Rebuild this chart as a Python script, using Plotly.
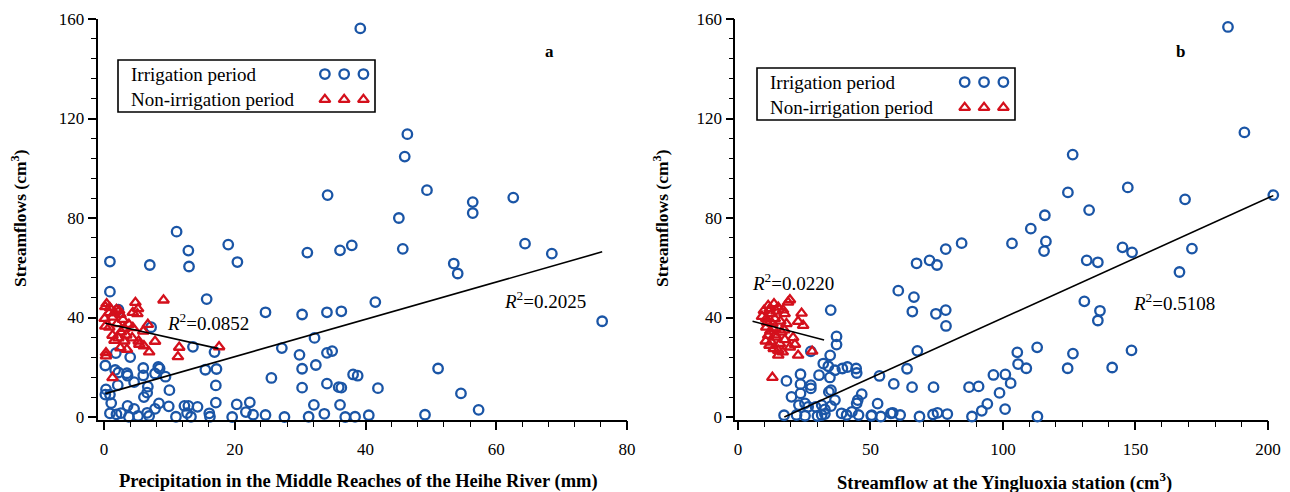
import plotly.graph_objects as go

# ---------------- data ----------------
# Panel a: precipitation in the middle reaches (mm) vs streamflow
a_irr_x = [39.2, 46.4, 46.0, 34.2, 49.4, 56.4, 56.4, 62.6, 45.1, 11.1, 12.9, 19.0, 13.0, 0.9, 7.0,
           20.4, 31.1, 36.1, 37.9, 45.7, 64.4, 68.5, 53.5, 54.1, 0.9, 15.7, 41.5, 24.7, 30.3, 34.1,
           36.3, 76.2, 7.2, 2.2, 13.6, 16.9, 27.2, 29.9, 32.2, 34.1, 34.9, 1.8, 4.0, 0.2, 6.0,
           8.3, 8.5, 15.5, 17.2, 30.3, 32.4, 51.1, 2.2, 3.6, 6.0, 7.8, 9.4, 4.6, 25.6, 38.1,
           38.8, 2.1, 6.7, 17.1, 30.3, 34.1, 35.9, 36.3, 41.9, 0.3, 0.2, 0.9, 6.6, 6.1, 10.0,
           54.6, 1.1, 3.6, 4.6, 8.4, 9.9, 12.3, 12.9, 14.3, 17.1, 20.3, 22.3, 32.1, 36.1, 57.3,
           0.9, 1.9, 2.6, 3.8, 5.2, 6.9, 7.8, 6.6, 11.0, 12.7, 13.3, 16.1, 16.2, 19.6, 21.7,
           22.8, 24.7, 27.6, 31.3, 33.7, 36.9, 38.4, 40.5, 49.1, 1.7, 3.5]
a_irr_y = [156.2, 113.7, 104.7, 89.2, 91.2, 86.4, 82.0, 88.2, 80.0, 74.5, 66.9, 69.3, 60.5, 62.5, 61.1,
           62.3, 66.1, 67.0, 69.0, 67.6, 69.7, 65.7, 61.7, 57.7, 50.4, 47.4, 46.2, 42.1, 41.2, 42.1,
           42.5, 38.5, 36.1, 43.2, 28.2, 26.1, 27.7, 25.0, 31.8, 25.8, 26.5, 25.7, 24.1, 20.7, 19.7,
           20.1, 19.5, 19.0, 19.3, 19.4, 20.9, 19.5, 17.9, 16.6, 16.7, 17.5, 16.2, 14.0, 15.7, 17.1,
           16.6, 12.8, 12.2, 12.7, 11.8, 13.4, 12.0, 11.8, 11.6, 11.1, 9.0, 9.0, 9.8, 8.0, 10.8,
           9.5, 5.6, 4.5, 3.3, 5.5, 4.3, 4.5, 4.5, 4.1, 5.8, 5.1, 5.9, 4.9, 4.9, 2.9,
           1.5, 1.1, 1.6, 0.1, 0.4, 0.4, 3.3, 1.7, 0.1, 1.6, 0.1, 1.5, 0.1, 0.0, 2.0,
           0.9, 0.8, 0.0, 0.1, 1.3, 0.0, 0.1, 0.7, 0.9, 18.9, 17.6]

a_non_x = [9.1, 4.8, 5.2, 5.1, 4.4, 0.4, 0.2, 0.9, 1.9, 2.3, 0.8, 1.6, 2.5, 0.1, 1.3,
           2.9, 0.2, 0.8, 2.0, 3.8, 4.4, 6.7, 3.1, 2.6, 1.3, 2.2, 1.6, 3.1, 4.3, 5.3,
           5.4, 6.1, 7.8, 2.5, 3.5, 6.9, 11.5, 11.3, 17.6, 0.3, 0.3, 1.3, 6.0, 3.4]
a_non_y = [47.0, 46.0, 43.5, 41.5, 42.0, 45.5, 44.3, 43.9, 43.2, 42.8, 41.9, 41.9, 41.2, 39.6, 40.1,
           39.2, 36.5, 36.1, 37.5, 37.2, 35.9, 37.2, 35.6, 34.2, 32.8, 31.8, 30.8, 30.5, 31.8, 30.5,
           29.2, 28.6, 30.4, 27.8, 27.2, 26.1, 28.0, 24.2, 28.2, 25.8, 24.5, 15.8, 34.5, 32.9]

# Panel b: streamflow at the Yingluoxia station vs streamflow
b_irr_x = [184.9, 191.1, 126.3, 202.0, 124.5, 147.1, 168.7, 132.5, 115.8, 110.5, 116.2, 115.5, 103.4,
           84.4, 78.4, 72.3, 75.1, 67.4, 145.1, 148.7, 171.3, 131.6, 135.8, 166.6, 60.5, 66.4, 130.7,
           65.8, 74.7, 78.4, 78.5, 35.0, 136.6, 135.8, 148.5, 126.4, 112.9, 105.4, 67.7, 124.4, 141.2,
           105.7, 108.8, 63.8, 53.4, 100.9, 96.4, 102.9, 87.2, 90.8, 98.7, 94.1, 92.0, 100.8, 88.3,
           113.0, 58.8, 65.7, 73.8, 52.7, 57.7, 61.2, 68.5, 73.6, 75.3, 79.0, 50.3, 53.9, 58.4,
           37.2, 37.2, 27.5, 34.8, 32.2, 34.1, 36.6, 39.4, 41.3, 44.6, 44.8, 34.7, 23.6, 18.3,
           23.6, 27.5, 27.5, 30.6, 35.1, 34.3, 36.6, 20.2, 23.6, 46.7, 45.2, 44.8, 25.3, 23.0,
           26.5, 29.3, 31.6, 32.8, 35.1, 39.1, 41.0, 43.0, 45.5, 17.4, 22.1, 25.3, 30.0, 31.6,
           32.8, 50.5]
b_irr_y = [156.8, 114.4, 105.5, 89.2, 90.3, 92.3, 87.5, 83.2, 81.1, 75.7, 70.6, 66.7, 69.8,
           69.9, 67.5, 63.0, 61.1, 61.8, 68.2, 66.2, 67.7, 63.0, 62.2, 58.3, 50.8, 48.2, 46.5,
           42.4, 41.5, 43.0, 36.6, 43.0, 42.7, 38.8, 26.8, 25.5, 28.0, 26.0, 26.6, 19.6, 19.9,
           21.3, 19.6, 19.4, 16.5, 17.1, 16.9, 13.6, 12.0, 12.3, 9.7, 5.3, 2.5, 3.2, 0.2,
           0.2, 13.3, 12.0, 12.0, 5.4, 1.5, 0.8, 0.2, 1.0, 1.7, 1.2, 0.5, 0.2, 1.7,
           32.4, 29.1, 26.4, 24.8, 21.5, 20.4, 18.8, 19.5, 20.1, 19.5, 17.7, 15.9, 17.2, 14.5,
           13.2, 12.8, 11.5, 16.8, 10.8, 10.1, 6.8, 8.1, 9.5, 9.2, 6.8, 5.5, 5.5, 4.8,
           4.1, 4.1, 4.8, 3.1, 4.4, 1.5, 0.8, 2.1, 0.8, 0.7, 0.8, 0.5, 0.4, 0.8,
           1.2, 0.7]

b_non_x = [19.6, 18.9, 11.4, 13.6, 15.2, 9.8, 17.0, 24.0, 12.6, 17.6, 9.1, 10.7, 13.9, 22.7,
           24.6, 18.3, 10.7, 13.3, 16.4, 11.4, 14.5, 20.8, 17.7, 12.6, 15.8, 21.5, 19.6, 11.9,
           15.2, 16.9, 22.7, 15.2, 28.0, 13.0, 12.0, 14.5, 11.0, 13.0, 16.0, 12.2, 14.0, 17.5,
           10.5, 13.5]
b_non_y = [47.1, 46.1, 44.8, 45.5, 44.1, 42.8, 43.0, 41.7, 41.5, 41.5, 40.4, 39.5, 39.5, 38.4,
           36.8, 37.5, 36.1, 35.5, 34.1, 32.8, 32.1, 31.9, 31.1, 30.1, 29.5, 29.2, 28.1, 28.8,
           26.8, 26.1, 24.8, 24.8, 26.4, 15.9, 43.5, 42.5, 38.0, 37.5, 38.5, 34.5, 33.0, 35.0,
           30.5, 27.5]

# fitted regression lines (end points)
fit_a_irr_x, fit_a_irr_y = [0.2, 76.2], [9.4, 66.4]
fit_a_non_x, fit_a_non_y = [0.2, 17.5], [37.7, 27.5]
fit_b_irr_x, fit_b_irr_y = [17.5, 202.0], [0.0, 89.0]
fit_b_non_x, fit_b_non_y = [5.5, 32.5], [38.5, 31.0]

r2_a_irr, r2_a_non = "0.2025", "0.0852"
r2_b_irr, r2_b_non = "0.5108", "0.0220"

series_names = ["Irrigation period", "Non-irrigation period"]
x_titles = ["Precipitation in the Middle Reaches of the Heihe River (mm)",
            "Streamflow at the Yingluoxia station (cm<sup>3</sup>)"]
y_title = "Streamflows (cm<sup>3</sup>)"
panel_labels = ["a", "b"]

# ---------------- styling ----------------
PAGE_W, PAGE_H = 1290, 492
OFF = 8                      # default page margin of the html body
W, H = PAGE_W - OFF, PAGE_H - OFF
FONT = "Liberation Serif, Times New Roman, serif"
BLUE = "#1a55a6"
RED = "#d4101c"
CLEAR = "rgba(0,0,0,0)"


def px(v):
    """page pixel (from left) -> paper fraction"""
    return (v - OFF) / W


def py(v):
    """page pixel (from top) -> paper fraction"""
    return 1 - (v - OFF) / H


circle = dict(symbol="circle-open", size=9.5, color=BLUE, line=dict(width=2.3, color=BLUE))
tri = dict(symbol="triangle-up-open", size=9.5, color=RED, line=dict(width=2.3, color=RED))
fit_line = dict(color="black", width=1.6)

# axis geometry (page pixels)
A_LEFT, A_RIGHT, A_RANGE = 97.5, 627.0, [-1, 80]
B_LEFT, B_RIGHT, B_RANGE = 735.3, 1268.0, [-1, 200]
# data layer of panel b extends a little past the axis end (a point sits beyond 200)
B_SCALE = (B_RIGHT - B_LEFT) / (B_RANGE[1] - B_RANGE[0])
B_DATA_RIGHT = 1281.0
B_DATA_RANGE = [B_RANGE[0], B_RANGE[0] + (B_DATA_RIGHT - B_LEFT) / B_SCALE]

fig = go.Figure()

# panel a
fig.add_trace(go.Scatter(x=a_irr_x, y=a_irr_y, mode="markers", marker=circle,
                         xaxis="x", yaxis="y", cliponaxis=False, showlegend=False))
fig.add_trace(go.Scatter(x=a_non_x, y=a_non_y, mode="markers", marker=tri,
                         xaxis="x", yaxis="y", cliponaxis=False, showlegend=False))
fig.add_trace(go.Scatter(x=fit_a_irr_x, y=fit_a_irr_y, mode="lines", line=fit_line,
                         xaxis="x", yaxis="y", showlegend=False))
fig.add_trace(go.Scatter(x=fit_a_non_x, y=fit_a_non_y, mode="lines", line=fit_line,
                         xaxis="x", yaxis="y", showlegend=False))
# panel b (drawn on a same-scale data layer x5/y5)
fig.add_trace(go.Scatter(x=b_irr_x, y=b_irr_y, mode="markers", marker=circle,
                         xaxis="x5", yaxis="y5", cliponaxis=False, showlegend=False))
fig.add_trace(go.Scatter(x=b_non_x, y=b_non_y, mode="markers", marker=tri,
                         xaxis="x5", yaxis="y5", cliponaxis=False, showlegend=False))
fig.add_trace(go.Scatter(x=fit_b_irr_x, y=fit_b_irr_y, mode="lines", line=fit_line,
                         xaxis="x5", yaxis="y5", showlegend=False))
fig.add_trace(go.Scatter(x=fit_b_non_x, y=fit_b_non_y, mode="lines", line=fit_line,
                         xaxis="x5", yaxis="y5", showlegend=False))

# custom legend boxes (sample markers on hidden unit axes)
legend_boxes = [(118, 60, 375, 112), (757, 68, 1015, 120)]
legend_axes = [("x3", "y3"), ("x4", "y4")]
for (x0, y0, x1, y1), (xa, ya) in zip(legend_boxes, legend_axes):
    fig.add_trace(go.Scatter(x=[0.805, 0.88, 0.955], y=[0.73] * 3, mode="markers", marker=circle,
                             xaxis=xa, yaxis=ya, showlegend=False, cliponaxis=False))
    fig.add_trace(go.Scatter(x=[0.805, 0.88, 0.955], y=[0.24] * 3, mode="markers", marker=tri,
                             xaxis=xa, yaxis=ya, showlegend=False, cliponaxis=False))

common_x = dict(showline=True, linecolor="black", linewidth=1.6, ticks="outside", ticklen=9,
                tickwidth=1.6, tickcolor="black", showgrid=False, zeroline=False, ticklabelstandoff=4,
                tickfont=dict(family=FONT, size=17, color="black"), automargin=False)
common_y = dict(showline=True, linecolor="black", linewidth=1.6, ticks="outside", ticklen=8,
                tickwidth=1.6, tickcolor="black", showgrid=False, zeroline=False,
                tickfont=dict(family=FONT, size=17, color="black"), automargin=False,
                range=[-1, 160], tickvals=[0, 40, 80, 120, 160],
                minor=dict(ticks="outside", tick0=0, dtick=8, ticklen=5, tickwidth=1.4, tickcolor="black"))

ydom = [py(419.5), py(19)]
hidden = dict(visible=False, range=[0, 1], fixedrange=True)


def note(x, y, text, size=17, xref="paper", yref="paper", angle=0, xanchor="center"):
    return dict(x=x, y=y, xref=xref, yref=yref, text=text, showarrow=False, textangle=angle,
                xanchor=xanchor, yanchor="middle", font=dict(family=FONT, size=size, color="black"))


annotations = []
for (x0, y0, x1, y1) in legend_boxes:
    annotations.append(note(px(x0 + 11), py(y0 + (y1 - y0) * 0.27), series_names[0], size=19, xanchor="left"))
    annotations.append(note(px(x0 + 11), py(y0 + (y1 - y0) * 0.76), series_names[1], size=19, xanchor="left"))

shapes = [dict(type="rect", xref="paper", yref="paper", x0=px(x0), x1=px(x1), y0=py(y1), y1=py(y0),
               line=dict(color="black", width=1.6)) for (x0, y0, x1, y1) in legend_boxes]

annotations += [
    # axis titles
    note(px(19), py(218), "<b>" + y_title + "</b>", size=17.5, angle=-90),
    note(px(661), py(218), "<b>" + y_title + "</b>", size=17.5, angle=-90),
    note(px(358), py(481), "<b>" + x_titles[0] + "</b>", size=18.5),
    note(px(1004), py(481), "<b>" + x_titles[1] + "</b>", size=18.5),
    # panel labels
    note(68.2, 147, "<b>" + panel_labels[0] + "</b>", xref="x", yref="y"),
    note(166.8, 147, "<b>" + panel_labels[1] + "</b>", xref="x2", yref="y2"),
    # R^2 labels
    note(15.9, 38.3, "<i>R</i><sup>2</sup>=" + r2_a_non, size=19, xref="x", yref="y"),
    note(67.4, 47.2, "<i>R</i><sup>2</sup>=" + r2_a_irr, size=19, xref="x", yref="y"),
    note(20.6, 54.3, "<i>R</i><sup>2</sup>=" + r2_b_non, size=19, xref="x2", yref="y2"),
    note(164.7, 46.3, "<i>R</i><sup>2</sup>=" + r2_b_irr, size=19, xref="x2", yref="y2"),
]

fig.update_layout(
    width=W, height=H, margin=dict(l=0, r=0, t=0, b=0),
    paper_bgcolor="white", plot_bgcolor=CLEAR, showlegend=False,
    font=dict(family=FONT, color="black"),
    xaxis=dict(domain=[px(A_LEFT), px(A_RIGHT)], range=A_RANGE, anchor="y", tickvals=[0, 20, 40, 60, 80],
               minor=dict(ticks="outside", tick0=0, dtick=4, ticklen=6, tickwidth=1.4, tickcolor="black"),
               **common_x),
    yaxis=dict(domain=ydom, anchor="x", **common_y),
    xaxis2=dict(domain=[px(B_LEFT), px(B_RIGHT)], range=B_RANGE, anchor="y2", tickvals=[0, 50, 100, 150, 200],
                minor=dict(ticks="outside", tick0=0, dtick=10, ticklen=6, tickwidth=1.4, tickcolor="black"),
                **common_x),
    yaxis2=dict(domain=ydom, anchor="x2", **common_y),
    xaxis3=dict(domain=[px(118), px(375)], anchor="y3", **hidden),
    yaxis3=dict(domain=[py(112), py(60)], anchor="x3", **hidden),
    xaxis4=dict(domain=[px(757), px(1015)], anchor="y4", **hidden),
    yaxis4=dict(domain=[py(120), py(68)], anchor="x4", **hidden),
    xaxis5=dict(domain=[px(B_LEFT), px(B_DATA_RIGHT)], range=B_DATA_RANGE, anchor="y5",
                visible=False, fixedrange=True),
    yaxis5=dict(domain=ydom, range=[-1, 160], anchor="x5", visible=False, fixedrange=True),
    annotations=annotations,
    shapes=shapes,
)

fig.write_html("out.html")
